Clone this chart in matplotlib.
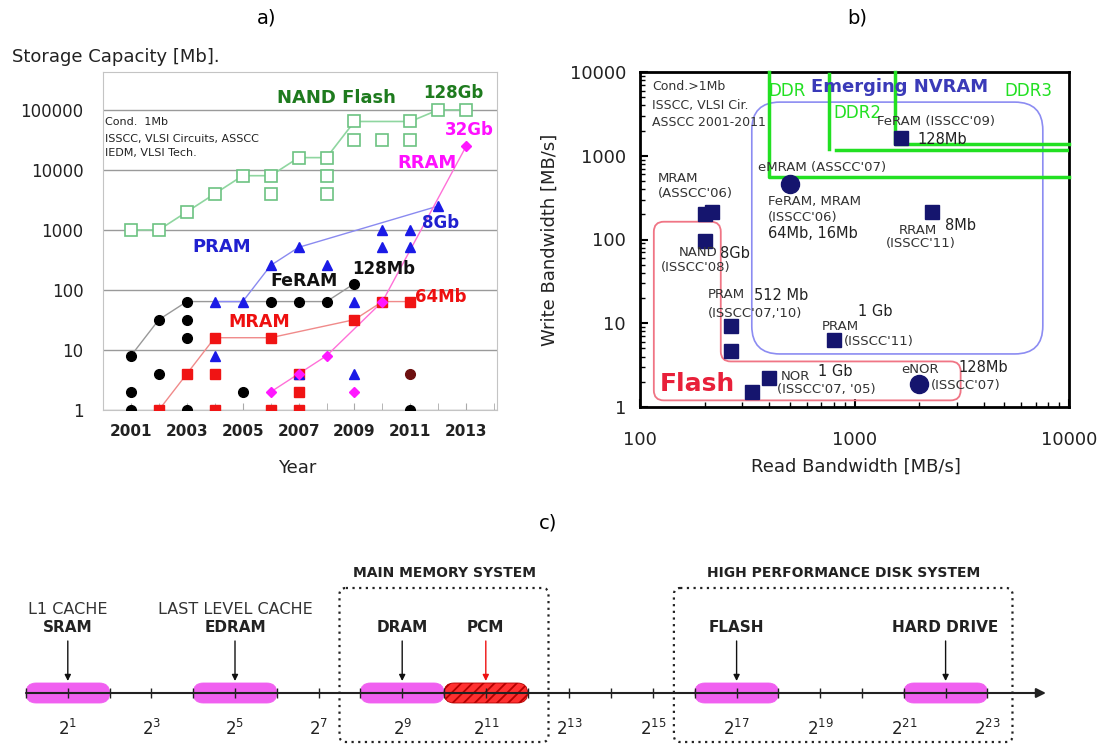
import numpy as np
import matplotlib
matplotlib.use('Agg')
import matplotlib.pyplot as plt
from matplotlib.patches import FancyBboxPatch, PathPatch
from matplotlib.path import Path
from matplotlib.ticker import NullLocator, FixedLocator

W, H = 1109, 747

# ---- a) storage capacity [Mb] by year ----
nand_years = [2001, 2002, 2003, 2004, 2005, 2006, 2006, 2007, 2008, 2008, 2008,
              2009, 2009, 2010, 2011, 2011, 2012, 2013]
nand_mb = [1000, 1000, 2000, 4000, 8000, 8000, 4000, 16000, 16000, 8000, 4000,
           64000, 32000, 32000, 64000, 32000, 100000, 100000]
nand_trend_years = [2001, 2002, 2003, 2004, 2005, 2006, 2007, 2008, 2009, 2011, 2012, 2013]
nand_trend_mb = [1000, 1000, 2000, 4000, 8000, 8000, 16000, 16000, 64000, 64000, 100000, 100000]

feram_years = [2001, 2001, 2001, 2002, 2002, 2003, 2003, 2003, 2003, 2004, 2005,
               2006, 2007, 2008, 2009, 2011]
feram_mb = [8, 2, 1, 32, 4, 64, 32, 16, 1, 1, 2, 64, 64, 64, 128, 1]
feram_trend_years = [2001, 2002, 2003, 2006, 2007, 2008, 2009]
feram_trend_mb = [8, 32, 64, 64, 64, 64, 128]

pram_years = [2004, 2004, 2005, 2006, 2007, 2007, 2008, 2009, 2009, 2010, 2010, 2011, 2011, 2012]
pram_mb = [64, 8, 64, 256, 512, 4, 256, 64, 4, 1000, 512, 1000, 512, 2500]
pram_trend_years = [2004, 2005, 2006, 2007, 2012]
pram_trend_mb = [64, 64, 256, 512, 2500]

mram_years = [2002, 2003, 2004, 2004, 2004, 2006, 2006, 2007, 2007, 2007, 2009, 2010, 2011]
mram_mb = [1, 4, 16, 4, 1, 16, 1, 4, 2, 1, 32, 64, 64]
mram_trend_years = [2002, 2003, 2004, 2006, 2009, 2010, 2011]
mram_trend_mb = [1, 4, 16, 16, 32, 64, 64]

rram_years = [2006, 2007, 2008, 2009, 2010, 2013]
rram_mb = [2, 4, 8, 2, 64, 25000]
rram_trend_years = [2006, 2007, 2008, 2010, 2013]
rram_trend_mb = [2, 4, 8, 64, 25000]

other_years = [2011]
other_mb = [4]

# ---- b) read / write bandwidth [MB/s] ----
sq_read = [200, 216, 200, 1640, 2300, 265, 265, 800, 400, 333]
sq_write = [200, 215, 95, 1620, 215, 9.2, 4.6, 6.3, 2.2, 1.5]
circ_read = [500, 2000]
circ_write = [465, 1.9]

flash_read = [116, 3125, 3125, 238, 238, 116]
flash_write = [1.2, 1.2, 3.5, 3.5, 163, 163]
nvram_read = [332, 7550, 7550, 332]
nvram_write = [4.3, 4.3, 4370, 4370]

ddr_read = [398, 398, 10000]
ddr_write = [10000, 560, 560]
ddr2_v_read = [757, 757]
ddr2_v_write = [9500, 1200]
ddr2_h_read = [820, 10000]
ddr2_h_write = [1180, 1180]
ddr3_read = [1550, 1550, 10000]
ddr3_write = [10000, 1400, 1400]

# ---- c) memory hierarchy on a 2^n scale ----
tier_names = ['SRAM', 'EDRAM', 'DRAM', 'PCM', 'FLASH', 'HARD DRIVE']
tier_headers = ['L1 CACHE', 'LAST LEVEL CACHE', '', '', '', '']
tier_pos = [1, 5, 9, 11, 17, 22]
tier_lo = [0, 4, 8, 10, 16, 21]
tier_hi = [2, 6, 10, 12, 18, 23]
group_names = ['MAIN MEMORY SYSTEM', 'HIGH PERFORMANCE DISK SYSTEM']
group_lo = [7.5, 15.5]
group_hi = [12.5, 23.6]
exp_labels = list(range(1, 24, 2))

plt.rcParams['hatch.linewidth'] = 1.3

fig = plt.figure(figsize=(W / 100, H / 100), dpi=100)
fig.patch.set_facecolor('white')


def box(left, top, right, bottom):
    return [left / W, 1 - bottom / H, (right - left) / W, (bottom - top) / H]


def ftext(x, y, s, **kw):
    kw.setdefault('va', 'center')
    fig.text(x / W, 1 - y / H, s, **kw)


# ================= panel a =================
ax = fig.add_axes(box(103, 72, 497, 410))
ax.set_yscale('log')
ax.set_xlim(2000.0, 2014.1)
ax.set_ylim(1, 4.27e5)
for s in ax.spines.values():
    s.set_color('#c4c4c4')
ax.yaxis.set_major_locator(FixedLocator([1, 10, 100, 1000, 10000, 100000]))
ax.set_yticklabels(['1', '10', '100', '1000', '10000', '100000'])
ax.yaxis.set_minor_locator(NullLocator())
ax.tick_params(axis='y', length=0, pad=14, labelsize=12, labelcolor='#222')
ax.set_xticks(range(2001, 2014, 2), [str(y) for y in range(2001, 2014, 2)],
              fontweight='bold')
ax.set_xticks(range(2002, 2015, 2), minor=True)
ax.tick_params(axis='x', which='both', direction='in', length=5, color='#aaaaaa',
               pad=10, labelsize=11, labelcolor='#222')
ax.grid(axis='y', which='major', color='#9a9a9a', lw=1)
ax.set_axisbelow(True)

ax.plot(nand_trend_years, nand_trend_mb, color='#8fd6a0', lw=1.2, zorder=2)
ax.plot(nand_years, nand_mb, ls='none', marker='s', ms=8, mfc='white',
        mec='#6cc281', mew=1.2, zorder=3)
ax.plot(feram_trend_years, feram_trend_mb, color='#999999', lw=1, zorder=2)
ax.plot(pram_trend_years, pram_trend_mb, color='#8a8af0', lw=1, zorder=2)
ax.plot(mram_trend_years, mram_trend_mb, color='#f08a8a', lw=1, zorder=2)
ax.plot(rram_trend_years, rram_trend_mb, color='#ff70d8', lw=1, zorder=2)
ax.plot(feram_years, feram_mb, ls='none', marker='o', ms=7, color='black', zorder=3)
ax.plot(mram_years, mram_mb, ls='none', marker='s', ms=7, color='#f01414', zorder=4)
ax.plot(pram_years, pram_mb, ls='none', marker='^', ms=7.5, color='#1a1ae6', zorder=4)
ax.plot(rram_years, rram_mb, ls='none', marker='D', ms=5.5, color='#ff18ff', zorder=5)
ax.plot(other_years, other_mb, ls='none', marker='o', ms=7, color='#6e1010', zorder=4)

ftext(267, 18, 'a)', ha='center', fontsize=14)
ftext(12, 57, 'Storage Capacity [Mb].', ha='left', fontsize=13, color='#222')
ftext(297, 468, 'Year', ha='center', fontsize=13, color='#222')
ftext(105, 122, 'Cond.  1Mb', ha='left', fontsize=8, color='#222')
ftext(105, 139, 'ISSCC, VLSI Circuits, ASSCC', ha='left', fontsize=8, color='#222')
ftext(105, 153, 'IEDM, VLSI Tech.', ha='left', fontsize=8, color='#222')
ftext(277, 98, 'NAND Flash', ha='left', fontsize=13, fontweight='bold', color='#1e7b1e')
ftext(423, 93, '128Gb', ha='left', fontsize=12, fontweight='bold', color='#1e7b1e')
ftext(445, 130, '32Gb', ha='left', fontsize=12, fontweight='bold', color='#ff10ff')
ftext(397, 163, 'RRAM', ha='left', fontsize=13, fontweight='bold', color='#ff10ff')
ftext(422, 223, '8Gb', ha='left', fontsize=12, fontweight='bold', color='#2020d0')
ftext(192, 247, 'PRAM', ha='left', fontsize=13, fontweight='bold', color='#2020d0')
ftext(352, 269, '128Mb', ha='left', fontsize=12, fontweight='bold', color='#111')
ftext(270, 281, 'FeRAM', ha='left', fontsize=12.5, fontweight='bold', color='#111')
ftext(228, 322, 'MRAM', ha='left', fontsize=12.5, fontweight='bold', color='#ee1010')
ftext(415, 297, '64Mb', ha='left', fontsize=12, fontweight='bold', color='#ee1010')

# ================= panel b =================
bx = fig.add_axes(box(640, 72, 1069, 407))
bx.set_xscale('log')
bx.set_yscale('log')
bx.set_xlim(100, 10000)
bx.set_ylim(1, 10000)
for s in bx.spines.values():
    s.set_linewidth(2)
bx.set_xticks([100, 1000, 10000], ['100', '1000', '10000'])
bx.set_yticks([1, 10, 100, 1000, 10000], ['1', '10', '100', '1000', '10000'])
bx.tick_params(which='both', direction='in', top=False, right=False)
bx.tick_params(which='major', length=6, width=1.5, labelsize=13, labelcolor='#222')
bx.tick_params(which='minor', length=3.5, width=1)
bx.tick_params(axis='x', which='major', pad=17)
bx.tick_params(axis='y', which='major', pad=10)

AXW, AXH = 429, 335


def to_px(xs, ys):
    fx = (np.log10(xs) - 2) / 2 * AXW
    fy = np.log10(ys) / 4 * AXH
    return np.column_stack([fx, fy])


def rounded(pts, r):
    n = len(pts)
    verts, codes = [], []
    for i in range(n):
        p, v, q = pts[i - 1], pts[i], pts[(i + 1) % n]
        a = v + (p - v) / np.hypot(*(p - v)) * r
        b = v + (q - v) / np.hypot(*(q - v)) * r
        verts += [a, v, b]
        codes += [Path.LINETO, Path.CURVE3, Path.CURVE3]
    codes[0] = Path.MOVETO
    verts.append(verts[0])
    codes.append(Path.CLOSEPOLY)
    verts = np.array(verts) / [AXW, AXH]
    return Path(verts, codes)


bx.add_patch(PathPatch(rounded(to_px(nvram_read, nvram_write), 28), fc='none',
                       ec='#8c8cf2', lw=1.2, transform=bx.transAxes, zorder=2))
bx.add_patch(PathPatch(rounded(to_px(flash_read, flash_write), 10), fc='none',
                       ec='#f07585', lw=1.3, transform=bx.transAxes, zorder=2))

green = '#22e022'
bx.plot(ddr_read, ddr_write, color=green, lw=2.5, clip_on=False, zorder=3)
bx.plot(ddr2_v_read, ddr2_v_write, color=green, lw=2.5, zorder=3)
bx.plot(ddr2_h_read, ddr2_h_write, color=green, lw=2.5, zorder=3)
bx.plot(ddr3_read, ddr3_write, color=green, lw=2.5, clip_on=False, zorder=3)

navy = '#15156e'
bx.plot(sq_read, sq_write, ls='none', marker='s', ms=10, color=navy, zorder=4)
bx.plot(circ_read, circ_write, ls='none', marker='o', ms=13, color=navy, zorder=4)

gray = '#333333'
b_labels = [
    (652, 87, 'Cond.>1Mb', 9, gray, 'normal'),
    (652, 105, 'ISSCC, VLSI Cir.', 9, gray, 'normal'),
    (652, 122, 'ASSCC 2001-2011', 9, gray, 'normal'),
    (768, 91, 'DDR', 12, green, 'normal'),
    (811, 87, 'Emerging NVRAM', 13, '#3a3ab8', 'bold'),
    (1004, 91, 'DDR3', 12, green, 'normal'),
    (833, 113, 'DDR2', 12, green, 'normal'),
    (877, 121, "FeRAM (ISSCC'09)", 9.5, gray, 'normal'),
    (917, 140, '128Mb', 10.5, '#222', 'normal'),
    (758, 167, "eMRAM (ASSCC'07)", 9.5, gray, 'normal'),
    (658, 179, 'MRAM', 9.5, gray, 'normal'),
    (658, 193, "(ASSCC'06)", 9.5, gray, 'normal'),
    (768, 202, 'FeRAM, MRAM', 9.5, gray, 'normal'),
    (768, 217, "(ISSCC'06)", 9.5, gray, 'normal'),
    (768, 234, '64Mb, 16Mb', 10.5, '#222', 'normal'),
    (899, 230, 'RRAM', 9.5, gray, 'normal'),
    (886, 243, "(ISSCC'11)", 9.5, gray, 'normal'),
    (945, 225, '8Mb', 10.5, '#222', 'normal'),
    (679, 253, 'NAND', 9.5, gray, 'normal'),
    (720, 253, '8Gb', 10.5, '#222', 'normal'),
    (661, 267, "(ISSCC'08)", 9.5, gray, 'normal'),
    (708, 295, 'PRAM', 9.5, gray, 'normal'),
    (754, 295, '512 Mb', 10.5, '#222', 'normal'),
    (708, 313, "(ISSCC'07,'10)", 9.5, gray, 'normal'),
    (858, 312, '1 Gb', 10.5, '#222', 'normal'),
    (822, 327, 'PRAM', 9.5, gray, 'normal'),
    (844, 342, "(ISSCC'11)", 9.5, gray, 'normal'),
    (818, 372, '1 Gb', 10.5, '#222', 'normal'),
    (781, 377, 'NOR', 9.5, gray, 'normal'),
    (777, 389, "(ISSCC'07, '05)", 9.5, gray, 'normal'),
    (901, 370, 'eNOR', 9.5, gray, 'normal'),
    (958, 367, '128Mb', 10.5, '#222', 'normal'),
    (931, 386, "(ISSCC'07)", 9.5, gray, 'normal'),
    (660, 384, 'Flash', 18, '#e8203a', 'bold'),
]
for x, y, s, size, col, wt in b_labels:
    ftext(x, y, s, ha='left', fontsize=size, color=col, fontweight=wt, zorder=5)

ftext(857, 18, 'b)', ha='center', fontsize=14)
ftext(856, 467, 'Read Bandwidth [MB/s]', ha='center', fontsize=13, color='#222')
ftext(550, 240, 'Write Bandwidth [MB/s]', ha='center', fontsize=13, color='#222',
      rotation=90)

# ================= panel c =================
cx = fig.add_axes(box(0, 555, W, H))
cx.set_xlim(-26 / 41.8, (W - 26) / 41.8)
cx.set_ylim(H, 555)
cx.axis('off')

axis_y = 693
pill_h = 20
for name, lo, hi in zip(tier_names, tier_lo, tier_hi):
    if name == 'PCM':
        fc, ec, hatch = '#ff3030', '#b30000', '///'
    else:
        fc, ec, hatch = '#f060f0', '#f060f0', None
    cx.add_patch(FancyBboxPatch((lo, axis_y - pill_h / 2), hi - lo, pill_h,
                                boxstyle='round,pad=0,rounding_size=0.24',
                                mutation_aspect=41.8, fc=fc, ec=ec, lw=0.6,
                                hatch=hatch, zorder=2))

cx.annotate('', xy=(24.4, axis_y), xytext=(0, axis_y),
            arrowprops=dict(arrowstyle='-|>', lw=1.5, color='#222',
                            mutation_scale=14, shrinkA=0, shrinkB=0), zorder=3)
cx.vlines(range(0, 24), axis_y - 5, axis_y + 5, color='#222', lw=1, zorder=3)

for e in exp_labels:
    cx.text(e, 729, r'$2^{%d}$' % e, ha='center', va='center', fontsize=12,
            color='#222')

for name, head, pos in zip(tier_names, tier_headers, tier_pos):
    col = '#ee1111' if name == 'PCM' else '#111'
    cx.annotate('', xy=(pos, axis_y - 12), xytext=(pos, 641),
                arrowprops=dict(arrowstyle='-|>', lw=1, color=col,
                                mutation_scale=9, shrinkA=0, shrinkB=0))
    cx.text(pos, 628, name, ha='center', va='center', fontsize=11,
            fontweight='bold', color='#222')
    if head:
        cx.text(pos, 610, head, ha='center', va='center', fontsize=11.5,
                color='#333')

for name, lo, hi in zip(group_names, group_lo, group_hi):
    cx.add_patch(FancyBboxPatch((lo, 588), hi - lo, 154,
                                boxstyle='round,pad=0,rounding_size=0.15',
                                mutation_aspect=41.8, fc='none', ec='#222',
                                lw=1.6, ls=(0, (1, 2)), zorder=1))
    cx.text((lo + hi) / 2, 573, name, ha='center', va='center', fontsize=10,
            fontweight='bold', color='#222')

ftext(548, 523, 'c)', ha='center', fontsize=14)

fig.savefig('out.png', dpi=100, facecolor='white')
